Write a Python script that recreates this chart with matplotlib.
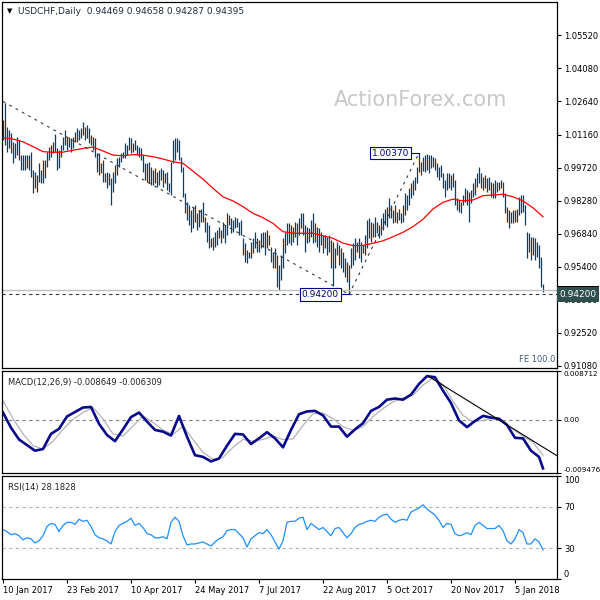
import numpy as np
import matplotlib.pyplot as plt
from matplotlib.patches import Rectangle
from matplotlib.transforms import blended_transform_factory

plt.rcParams['font.family'] = ['DejaVu Sans']

# daily bars, prices in pips (x 1e-4), one value per trading day from 10 Jan 2017
high_pips = [
    10181, 10254, 10152, 10137, 10123, 10086, 10079, 10108, 10094, 10028,
    10028, 10028, 10028, 10028, 10043, 9963, 9955, 9941, 9992, 9963,
    10006, 10006, 10043, 10065, 10072, 10086, 10118, 10057, 10050, 10072,
    10108, 10137, 10108, 10108, 10101, 10108, 10130, 10145, 10137, 10145,
    10174, 10152, 10159, 10145, 10115, 10108, 10101, 10035, 10035, 9992,
    10006, 9948, 9955, 9948, 9926, 9955, 9985, 10014, 10021, 10035,
    10043, 10079, 10072, 10108, 10101, 10079, 10094, 10072, 10065,
    10057, 10028, 9992, 9992, 9999, 9977, 9963, 9970, 9955, 9963,
    9970, 9963, 9948, 9955, 9905, 9999, 10094, 10101, 10104, 10094,
    10021, 9977, 9861, 9825, 9810, 9788, 9803, 9810, 9774, 9788,
    9795, 9825, 9759, 9737, 9723, 9665, 9672, 9694, 9701, 9716,
    9701, 9737, 9723, 9774, 9766, 9752, 9745, 9759, 9752, 9737,
    9745, 9665, 9643, 9614, 9606, 9650, 9665, 9694, 9665, 9657,
    9687, 9694, 9694, 9701, 9679, 9628, 9606, 9621, 9592, 9548,
    9592, 9665, 9694, 9730, 9730, 9723, 9716, 9737, 9730, 9752,
    9774, 9774, 9723, 9716, 9708, 9745, 9774, 9730, 9716, 9708,
    9694, 9679, 9679, 9672, 9679, 9657, 9650, 9621, 9650, 9635,
    9621, 9606, 9577, 9563, 9548, 9621, 9643, 9665, 9650, 9665,
    9650, 9635, 9679, 9745, 9752, 9737, 9730, 9759, 9737, 9723,
    9752, 9774, 9795, 9803, 9839, 9810, 9788, 9810, 9781, 9795,
    9774, 9810, 9861, 9854, 9883, 9905, 9919, 9934, 9977, 10037,
    9999, 10020,
    10030, 10033, 10028, 10028, 10021, 10014, 9992, 9977, 9985, 9948,
    9919, 9948, 9948, 9941, 9948, 9919, 9839, 9832, 9825, 9854,
    9883, 9876, 9868, 9876, 9905, 9926, 9948, 9977, 9948, 9934,
    9941, 9926, 9934, 9912, 9905, 9919, 9912, 9912, 9919, 9909,
    9861, 9803, 9788, 9781, 9788, 9788, 9795, 9846, 9854, 9854,
    9810, 9694, 9687, 9672, 9672, 9665, 9650, 9635, 9585, 9466,
]
low_pips = [
    10094, 10072, 10043, 10057, 10035, 9992, 10014, 10028, 10006, 9963,
    9963, 9963, 9970, 9963, 9934, 9861, 9883, 9868, 9912, 9905,
    9905, 9926, 9977, 10006, 10021, 10035, 10043, 9963, 9970, 10021,
    10050, 10072, 10050, 10065, 10043, 10057, 10086, 10086, 10094, 10101,
    10115, 10094, 10101, 10079, 10072, 10050, 10021, 9955, 9941, 9948,
    9912, 9912, 9883, 9897, 9810, 9868, 9905, 9941, 9977, 9999,
    10014, 10014, 10028, 10050, 10035, 10043, 10050, 10028, 10021,
    10006, 9955, 9919, 9912, 9905, 9897, 9897, 9905, 9890, 9897,
    9919, 9890, 9905, 9876, 9868, 9854, 9992, 10006, 10043, 10006,
    9955, 9846, 9774, 9745, 9723, 9694, 9708, 9737, 9701, 9716,
    9737, 9737, 9694, 9650, 9621, 9628, 9614, 9628, 9635, 9665,
    9643, 9665, 9643, 9679, 9723, 9687, 9694, 9708, 9716, 9679,
    9679, 9592, 9563, 9556, 9577, 9577, 9599, 9621, 9606, 9606,
    9621, 9628, 9592, 9621, 9635, 9563, 9534, 9534, 9454, 9439,
    9483, 9534, 9599, 9635, 9643, 9635, 9650, 9672, 9635, 9679,
    9708, 9679, 9606, 9643, 9650, 9672, 9643, 9650, 9628, 9606,
    9635, 9599, 9621, 9592, 9606, 9534, 9455, 9534, 9592, 9548,
    9534, 9519, 9497, 9476, 9420, 9534, 9548, 9570, 9606, 9577,
    9563, 9599, 9592, 9621, 9665, 9650, 9672, 9672, 9687, 9665,
    9679, 9701, 9723, 9716, 9752, 9752, 9730, 9737, 9730, 9745,
    9730, 9737, 9766, 9788, 9810, 9839, 9854, 9876, 9905, 9955,
    9941, 9960,
    9955, 9963, 9948, 9970, 9977, 9963, 9934, 9919, 9934, 9883,
    9846, 9876, 9883, 9876, 9890, 9810, 9788, 9781, 9774, 9810,
    9825, 9810, 9737, 9817, 9846, 9854, 9890, 9905, 9883, 9876,
    9883, 9868, 9876, 9846, 9839, 9839, 9868, 9876, 9883, 9846,
    9774, 9737, 9708, 9730, 9730, 9737, 9737, 9766, 9774, 9781,
    9723, 9577, 9606, 9570, 9592, 9570, 9585, 9534, 9454, 9429,
]

# red moving average, read every 5 bars
ma_pips = [
    10104, 10098, 10086, 10065, 10043, 10040, 10041, 10049, 10057, 10063,
    10046, 10028, 10025, 10030, 10028, 10021, 10011, 9999, 9992, 9958,
    9923, 9883, 9846, 9828, 9803, 9774, 9755, 9730, 9694, 9687,
    9687, 9687, 9676, 9665, 9644, 9633, 9634, 9643, 9654, 9672,
    9691, 9716, 9748, 9793, 9822, 9836, 9828, 9832, 9851, 9854,
    9857, 9846, 9828, 9798, 9759,
]

# MACD(12,26,9) main line every 4 bars (+ last bar), signal every 5 bars (+ last bar)
macd_main = [
    0.0013, -0.0014, -0.0035, -0.0045, -0.0055, -0.0052, -0.0025, -0.0016, 0.0006, 0.0014,
    0.0022, 0.0023, -0.0007, -0.0027, -0.0038, -0.0017, 0.0005, 0.0013, -0.0003, -0.0018,
    -0.0021, -0.0028, 0.0007, -0.0030, -0.0063, -0.0066, -0.0074, -0.0069, -0.0046, -0.0025,
    -0.0026, -0.0043, -0.0033, -0.0022, -0.0033, -0.0049, -0.0018, 0.0010, 0.0015, 0.0016,
    0.0008, -0.0012, -0.0012, -0.0030, -0.0017, -0.0006, 0.0016, 0.0023, 0.0036, 0.0038,
    0.0036, 0.0045, 0.0064, 0.0078, 0.0076, 0.0052, 0.0030, -0.0001, -0.0013, -0.0002,
    0.0007, 0.0004, 0.0002, -0.0009, -0.0032, -0.0033, -0.0055, -0.0066, -0.008649,
]
macd_signal = [
    0.0034, 0.0002, -0.0025, -0.0046, -0.0052, -0.0038, -0.0017, 0.0001, 0.0013, 0.0022,
    0.0002, -0.0025, -0.0029, -0.0011, 0.0007, -0.0005, -0.0018, -0.0026, -0.0011, -0.0035,
    -0.0058, -0.0070, -0.0067, -0.0049, -0.0035, -0.0038, -0.0035, -0.0029, -0.0035, -0.0034,
    -0.0010, 0.0011, 0.0012, 0.0002, -0.0012, -0.0019, -0.0012, 0.0006, 0.0020, 0.0032,
    0.0039, 0.0044, 0.0062, 0.0075, 0.0063, 0.0033, 0.0008, -0.0004, -0.0001, 0.0003,
    -0.0003, -0.0017, -0.0029, -0.0040, -0.006309,
]

# RSI(14) every 2 bars (+ last bar)
rsi_vals = [
    48, 46, 43, 44, 42, 38, 40, 39, 35, 37,
    42, 51, 54, 53, 46, 52, 55, 55, 53, 58,
    56, 57, 51, 43, 40, 39, 37, 34, 46, 52,
    54, 56, 59, 52, 54, 50, 44, 43, 40, 40,
    41, 39, 55, 60, 56, 42, 33, 34, 34, 35,
    36, 34, 32, 36, 39, 41, 47, 48, 48, 44,
    40, 31, 39, 42, 45, 44, 48, 43, 36, 29,
    37, 55, 56, 56, 59, 60, 48, 54, 51, 48,
    50, 46, 42, 49, 50, 45, 40, 44, 50, 53,
    54, 56, 57, 56, 60, 62, 63, 58, 55, 57,
    58, 57, 65, 67, 69, 72, 68, 65, 62, 57,
    50, 54, 53, 44, 42, 43, 45, 43, 52, 55,
    52, 49, 49, 49, 52, 47, 37, 34, 39, 48,
    45, 34, 34, 39, 36, 28.1828,
]

date_labels = ['10 Jan 2017', '23 Feb 2017', '10 Apr 2017', '24 May 2017', '7 Jul 2017',
               '22 Aug 2017', '5 Oct 2017', '20 Nov 2017', '5 Jan 2018']
price_ticks = [1.05520, 1.04080, 1.02640, 1.01160, 0.99720, 0.98280,
               0.96840, 0.95400, 0.93960, 0.92520, 0.91080]

# drawn objects: trend line anchors (bar, price) and levels
down_trend = [(0, 1.0262), (173, 0.9420)]
up_leg = [(173, 0.9420), (208, 1.0037)]
low_level = 0.94200
high_level = 1.00370
bid = 0.94395
macd_trend = [(213, 0.0077), (277, -0.0064)]

high = np.array(high_pips) / 10000
low = np.array(low_pips) / 10000
ma = np.array(ma_pips) / 10000
n = len(high)
bars = np.arange(n)
ma_x = np.arange(0, n, 5)
macd_x = np.append(np.arange(0, n - 2, 4), n - 1)
sig_x = np.append(np.arange(0, n - 5, 5), n - 1)
rsi_x = np.append(np.arange(0, n - 2, 2), n - 1)
tick_bars = np.arange(len(date_labels)) * 32

W = H = 600.0


def box(x0, y0, x1, y1):
    return [x0 / W, 1 - y1 / H, (x1 - x0) / W, (y1 - y0) / H]


fig = plt.figure(figsize=(6, 6), dpi=100)
ax = fig.add_axes(box(2, 2, 557, 368))
ax2 = fig.add_axes(box(2, 371, 557, 473), sharex=ax)
ax3 = fig.add_axes(box(2, 476, 557, 579), sharex=ax)

bar_col = '#163c5a'
fs = 6

# price panel
ax.vlines(bars, low, high, color=bar_col, lw=0.9)
ax.plot(ma_x, ma, color='red', lw=0.9)
ax.plot(*zip(*down_trend), color='#2b3b45', lw=0.8, ls=(0, (2.5, 4)))
ax.plot(*zip(*up_leg), color='#2b3b45', lw=0.8, ls=(0, (2.5, 4)))
ax.axhline(bid, color='#c0c0c0', lw=1)
ax.axhline(low_level, color='#2b3b45', lw=0.8, ls=(0, (3, 3)))
ax.plot([168, 173], [low_level, low_level], color='navy', lw=0.8)
ax.plot([203, 208], [high_level, high_level], color='navy', lw=0.8)
lbl = dict(boxstyle='square,pad=0.2', fc='white', ec='navy', lw=0.8)
ax.text(168, low_level, '%.5f' % low_level, ha='right', va='center', fontsize=6.5,
        color='navy', bbox=lbl)
ax.text(203, high_level, '%.5f' % high_level, ha='right', va='center', fontsize=6.5,
        color='navy', bbox=lbl)
fig.text(421 / W, 1 - 100 / H, 'ActionForex.com', ha='center', va='center',
         fontsize=15, color='#c8c8c8')
ax.text(0.997, 0.012, 'FE 100.0', transform=ax.transAxes, ha='right', va='bottom',
        fontsize=fs, color='#3c5a78')
ax.set_ylim(0.90991, 1.06960)
ax.set_xlim(-0.5, 277)
ax.yaxis.tick_right()
ax.set_yticks(price_ticks)
ax.set_yticklabels(['%.5f' % p for p in price_ticks])
tr = blended_transform_factory(ax.transAxes, ax.transData)
# current bid marker, mostly hidden behind the level box
ax.add_patch(Rectangle((1.0, bid - 0.0004), 0.075, 0.0022, transform=tr,
                       fc='black', ec='none', clip_on=False))
ax.text(1.004, low_level, '%.5f' % low_level, transform=tr, ha='left', va='center',
        fontsize=fs + 0.5, color='white',
        bbox=dict(boxstyle='square,pad=0.3', fc='#2f4f4f', ec='none'))

# MACD panel
ax2.axhline(0, color='#808080', lw=0.8, ls=(0, (3, 3)))
ax2.plot(sig_x, macd_signal, color='#b4b4b4', lw=0.9)
ax2.plot(macd_x, macd_main, color='#0a0a8c', lw=1.9)
ax2.plot(*zip(*macd_trend), color='black', lw=0.8)
ax2.set_ylim(-0.009476, 0.008712)
ax2.yaxis.tick_right()
ax2.set_yticks([0.008712, 0, -0.009476])
ax2.set_yticklabels(['0.008712', '0.00', '-0.009476'])
ax2.text(0.01, 0.93, 'MACD(12,26,9) -0.008649 -0.006309', transform=ax2.transAxes,
         fontsize=fs, va='top', color='#222222')

# RSI panel
for lev in (70, 30):
    ax3.axhline(lev, color='#b4b4b4', lw=0.8, ls=(0, (3, 3)))
ax3.plot(rsi_x, rsi_vals, color='#1e90ff', lw=0.9)
ax3.set_ylim(0, 100)
ax3.yaxis.tick_right()
ax3.set_yticks([100, 70, 30, 0])
ax3.set_yticklabels(['100', '70', '30', '0'])
ax3.text(0.01, 0.93, 'RSI(14) 28.1828', transform=ax3.transAxes, fontsize=fs,
         va='top', color='#222222')
ax3.set_xticks(tick_bars)
ax3.set_xticklabels(date_labels, ha='left')

for a in (ax, ax2, ax3):
    for s in a.spines.values():
        s.set_linewidth(0.9)
        s.set_color('black')
    a.tick_params(axis='y', direction='out', length=3, width=0.8, labelsize=fs, pad=2)
    a.tick_params(axis='x', direction='out', length=3, width=0.8, labelsize=fs, pad=2)
for a in (ax, ax2):
    a.tick_params(axis='x', bottom=False, labelbottom=False)
ax2.tick_params(axis='y', labelsize=5.2, pad=1.5)
for t in ax2.get_yticklabels()[:1] + ax3.get_yticklabels()[:1]:
    t.set_va('top')
for t in ax2.get_yticklabels()[-1:] + ax3.get_yticklabels()[-1:]:
    t.set_va('bottom')

fig.text(7 / W, 1 - 11 / H, '\u25bc', fontsize=5, va='center', color='black')
fig.text(18 / W, 1 - 11 / H, 'USDCHF,Daily  0.94469 0.94658 0.94287 0.94395',
         fontsize=fs + 0.5, va='center', color='#1c2c3c')

fig.savefig('out.png', dpi=100, facecolor='white')
